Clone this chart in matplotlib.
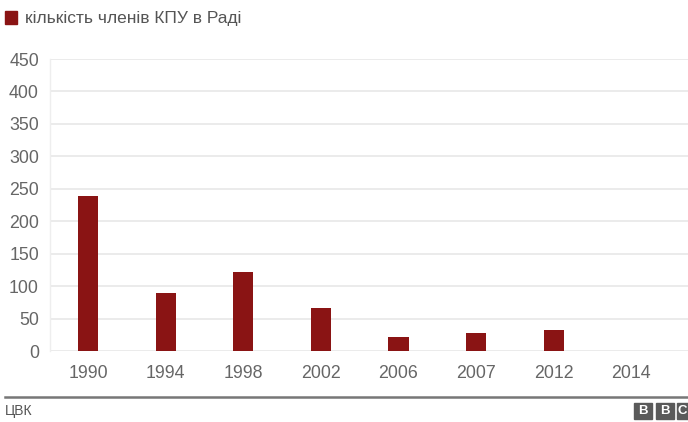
import matplotlib
matplotlib.use("Agg")
import matplotlib.pyplot as plt
from matplotlib.patches import Rectangle

plt.rcParams['font.family'] = ['Liberation Sans', 'DejaVu Sans']

years = ["1990", "1994", "1998", "2002", "2006", "2007", "2012", "2014"]
seats = [239, 90, 121, 66, 21, 27, 32, 0]
y_ticks = [0, 50, 100, 150, 200, 250, 300, 350, 400, 450]
legend_label = "кількість членів КПУ в Раді"
source_label = "ЦВК"

W, H = 688, 422
fig = plt.figure(figsize=(W / 100, H / 100), dpi=100)

bar_color = "#8a1414"
text_color = "#555555"

left, right, top, bottom = 50, 688, 59, 351
ax = fig.add_axes([left / W, 1 - bottom / H, (right - left) / W, (bottom - top) / H])
x = list(range(len(years)))
ax.bar(x, seats, width=0.26, color=bar_color, zorder=3)
ax.set_xlim(-0.49, 7.73)
ax.set_ylim(0, 450)
ax.set_yticks(y_ticks)
ax.set_yticklabels([str(v) for v in y_ticks])
ax.set_xticks(x)
ax.set_xticklabels(years)
ax.grid(axis='y', color="#e8e8e8", linewidth=1.2, zorder=0)
for s in ["top", "right", "bottom"]:
    ax.spines[s].set_visible(False)
ax.spines["left"].set_color("#eeeeee")
ax.spines["left"].set_linewidth(1)
ax.tick_params(axis='both', length=0, labelsize=12.8, colors="#666666")
ax.tick_params(axis='y', pad=8)
ax.tick_params(axis='x', pad=10)

# legend
fig.patches.append(Rectangle((5 / W, 1 - 24 / H), 12 / W, 13 / H,
                             transform=fig.transFigure, color=bar_color))
fig.text(25 / W, 1 - 18 / H, legend_label, fontsize=12.5, color=text_color,
         va='center', ha='left')

# footer rule
fig.add_artist(plt.Line2D([5 / W, 1], [1 - 397 / H] * 2, transform=fig.transFigure,
                          color="#777777", linewidth=1.8))
fig.text(5 / W, 1 - 411 / H, source_label, fontsize=10, color=text_color,
         va='center', ha='left')

# BBC logo (runs off the right edge)
for i, ch in enumerate("BBC"):
    x0 = 634 + i * 21.5
    fig.patches.append(Rectangle((x0 / W, 1 - 419 / H), 18 / W, 16 / H,
                                 transform=fig.transFigure, color="#5a5a5a"))
    cx = min(x0 + 9, 682)
    fig.text(cx / W, 1 - 411 / H, ch, fontsize=9.5, color="white",
             fontweight='bold', ha='center', va='center')

fig.savefig("out.png", dpi=100, facecolor="white")
